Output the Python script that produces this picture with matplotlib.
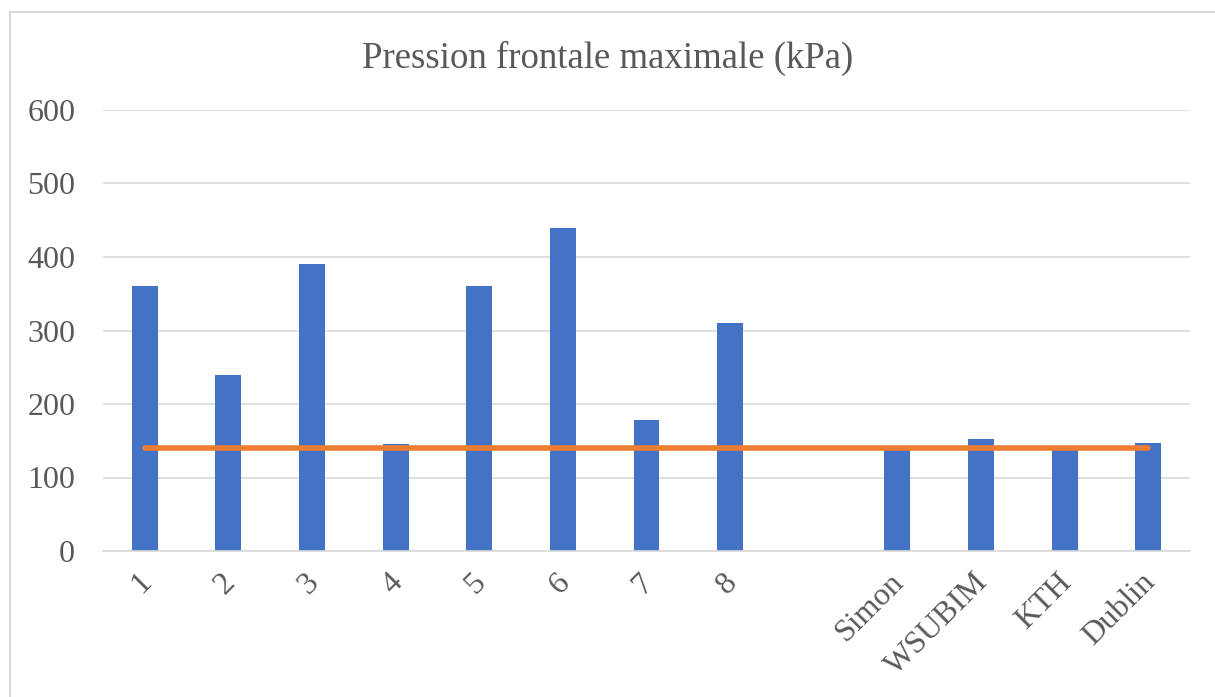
import matplotlib.pyplot as plt
import matplotlib.transforms as mtransforms
from matplotlib.patches import Rectangle

categories = ["1", "2", "3", "4", "5", "6", "7", "8", "", "Simon", "WSUBIM", "KTH", "Dublin"]
pressure = [360, 240, 390, 145, 360, 440, 178, 310, None, 140, 153, 140, 147]
threshold = [140] * len(categories)

plt.rcParams["font.family"] = ["Liberation Serif", "DejaVu Serif"]

fig = plt.figure(figsize=(12.15, 6.97), dpi=100)
ax = fig.add_axes([103 / 1215, 1 - 551 / 697, 1087 / 1215, 441 / 697])

# chart border (only top and left edges fall inside the image)
fig.patches.append(Rectangle((10 / 1215, -0.05), 1.2, 1 - 12 / 697 + 0.05,
                             transform=fig.transFigure, fill=False,
                             edgecolor="#d9d9d9", linewidth=1.5))

positions = list(range(len(categories)))
bar_x = [p for p, v in zip(positions, pressure) if v is not None]
bar_h = [v for v in pressure if v is not None]
ax.bar(bar_x, bar_h, width=0.31, color="#4472c4", zorder=2)
ax.plot(positions, threshold, color="#ed7d31", linewidth=4, solid_capstyle="round", zorder=3)

ax.set_xlim(-0.5, len(categories) - 0.5)
ax.set_ylim(0, 600)
ax.set_yticks(range(0, 601, 100))
ax.yaxis.grid(True, color="#d9d9d9", linewidth=1.2, zorder=0)
ax.set_xticks(positions)
ax.set_xticklabels(categories, rotation=45, ha="right", rotation_mode="anchor")
ax.tick_params(axis="both", length=0, labelsize=23, labelcolor="#595959")
ax.tick_params(axis="y", pad=20)
ax.tick_params(axis="x", pad=12)
shift = mtransforms.ScaledTranslation(-8 / 100, 0, fig.dpi_scale_trans)
for lbl in ax.get_xticklabels():
    lbl.set_transform(lbl.get_transform() + shift)
for side in ["top", "right", "left"]:
    ax.spines[side].set_visible(False)
ax.spines["bottom"].set_color("#d9d9d9")
ax.spines["bottom"].set_linewidth(1.2)

fig.text(0.5, 1 - 58 / 697, "Pression frontale maximale (kPa)", ha="center", va="center",
         fontsize=26.5, color="#595959")

fig.savefig("out.png", dpi=100)
